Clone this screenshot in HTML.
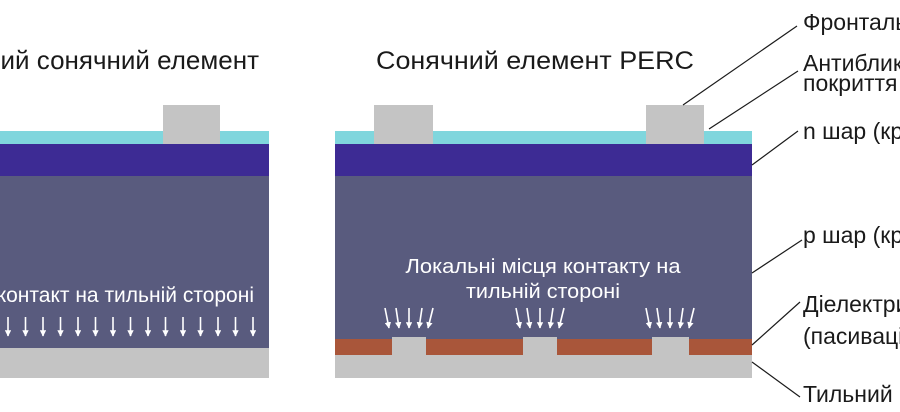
<!DOCTYPE html>
<html><head><meta charset="utf-8"><style>html,body{margin:0;padding:0;background:#fff}svg{display:block}</style></head>
<body>
<svg width="900" height="412" viewBox="0 0 900 412" xmlns="http://www.w3.org/2000/svg" font-family="Liberation Sans, sans-serif">
<defs>
<marker id="ah" viewBox="0 0 10 10" refX="9" refY="5" markerWidth="4" markerHeight="4" orient="auto" markerUnits="strokeWidth"><path d="M0,0 L10,5 L0,10 Z" fill="#fff"/></marker>
</defs>
<text x="259" y="69" font-size="26" text-anchor="end" fill="#1a1a1a">Стандартний сонячний елемент</text>
<text x="376" y="69" font-size="25" fill="#1a1a1a" textLength="318" lengthAdjust="spacingAndGlyphs">Сонячний елемент PERC</text>
<rect x="0" y="131" width="269" height="13" fill="#80d6dd"/>
<rect x="163" y="105" width="57" height="39" fill="#c4c4c4"/>
<rect x="0" y="144" width="269" height="32" fill="#3d2b94"/>
<rect x="0" y="176" width="269" height="172" fill="#595b7e"/>
<rect x="0" y="348" width="269" height="30" fill="#c4c4c4"/>
<text x="254" y="302" font-size="21" text-anchor="end" fill="#fff">Суцільний контакт на тильній стороні</text>
<g stroke="#fff" stroke-width="1.6" marker-end="url(#ah)">
<line x1="8" y1="317" x2="8" y2="336"/><line x1="25.5" y1="317" x2="25.5" y2="336"/><line x1="43" y1="317" x2="43" y2="336"/><line x1="60.5" y1="317" x2="60.5" y2="336"/><line x1="78" y1="317" x2="78" y2="336"/><line x1="95.5" y1="317" x2="95.5" y2="336"/><line x1="113" y1="317" x2="113" y2="336"/><line x1="130.5" y1="317" x2="130.5" y2="336"/><line x1="148" y1="317" x2="148" y2="336"/><line x1="165.5" y1="317" x2="165.5" y2="336"/><line x1="183" y1="317" x2="183" y2="336"/><line x1="200.5" y1="317" x2="200.5" y2="336"/><line x1="218" y1="317" x2="218" y2="336"/><line x1="235.5" y1="317" x2="235.5" y2="336"/><line x1="253" y1="317" x2="253" y2="336"/>
</g>
<rect x="335" y="131" width="417" height="13" fill="#80d6dd"/>
<rect x="374" y="105" width="59" height="39" fill="#c4c4c4"/>
<rect x="646" y="105" width="58" height="39" fill="#c4c4c4"/>
<rect x="335" y="144" width="417" height="32" fill="#3d2b94"/>
<rect x="335" y="176" width="417" height="163" fill="#595b7e"/>
<rect x="335" y="339" width="417" height="16" fill="#a9563a"/>
<rect x="335" y="355" width="417" height="23" fill="#c4c4c4"/>
<rect x="392" y="337" width="34" height="18" fill="#c4c4c4"/>
<rect x="523" y="337" width="34" height="18" fill="#c4c4c4"/>
<rect x="652" y="337" width="37" height="18" fill="#c4c4c4"/>
<text x="543" y="273" font-size="20" text-anchor="middle" fill="#fff" textLength="275" lengthAdjust="spacingAndGlyphs">Локальні місця контакту на</text>
<text x="543" y="298" font-size="20" text-anchor="middle" fill="#fff" textLength="154" lengthAdjust="spacingAndGlyphs">тильній стороні</text>
<g stroke="#fff" stroke-width="1.6" marker-end="url(#ah)">
<g id="grp"><line x1="385" y1="308" x2="389" y2="328"/><line x1="396" y1="308" x2="399" y2="328"/><line x1="409" y1="308" x2="409" y2="328"/><line x1="422" y1="308" x2="419" y2="328"/><line x1="433" y1="308" x2="428" y2="328"/></g>
<use href="#grp" x="131"/>
<use href="#grp" x="261"/>
</g>
<g stroke="#1a1a1a" stroke-width="1.2" fill="none">
<line x1="683" y1="105" x2="797" y2="26"/>
<line x1="709" y1="129" x2="798" y2="71"/>
<line x1="752" y1="165" x2="798" y2="131"/>
<line x1="752" y1="273" x2="802" y2="240"/>
<line x1="752" y1="345" x2="800" y2="302"/>
<line x1="752" y1="362" x2="800" y2="397"/>
</g>
<g font-size="23" fill="#1a1a1a">
<text x="803" y="30">Фронтальний контакт</text>
<text x="803" y="71">Антибликове</text>
<text x="803" y="91">покриття</text>
<text x="803" y="139">n шар (кремній)</text>
<text x="803" y="243">p шар (кремній)</text>
<text x="803" y="312">Діелектрик</text>
<text x="803" y="344">(пасивація)</text>
<text x="803" y="402">Тильний контакт</text>
</g>
</svg>
</body></html>
